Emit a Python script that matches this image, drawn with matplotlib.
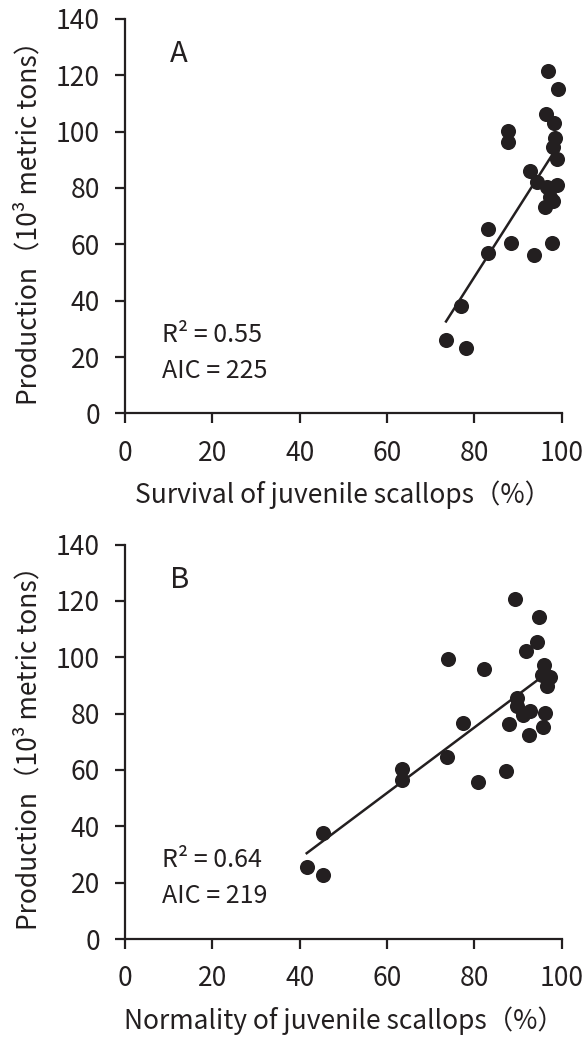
import numpy as np
import matplotlib
matplotlib.use("Agg")
import matplotlib.pyplot as plt

plt.rcParams['font.family'] = ['Noto Sans CJK SC', 'DejaVu Sans']

# Panel A: survival of juvenile scallops (%) vs production (10^3 t)
survival = [96.9, 99.2, 96.3, 98.3, 87.8, 87.8, 98.5, 98.0, 98.8, 92.7,
            94.3, 98.9, 96.6, 97.3, 98.1, 96.2, 83.0, 83.0, 88.4, 93.7,
            97.7, 76.9, 73.5, 78.0]
prod_a = [121.7, 115.2, 106.4, 103.1, 100.3, 96.3, 97.9, 94.5, 90.3, 86.2,
          82.0, 81.0, 80.4, 76.9, 75.5, 73.3, 65.3, 56.8, 60.3, 56.2,
          60.6, 38.1, 26.0, 23.3]

# Panel B: normality of juvenile scallops (%) vs production (10^3 t)
normality = [89.3, 94.9, 94.4, 91.8, 73.9, 82.1, 96.0, 97.3, 95.4, 96.6,
             89.8, 89.8, 91.2, 92.8, 96.2, 95.8, 92.4, 88.0, 77.5, 73.7,
             87.2, 80.8, 63.4, 63.4, 45.3, 41.6, 45.3]
prod_b = [120.8, 114.2, 105.3, 102.3, 99.4, 95.8, 97.4, 92.9, 93.8, 89.7,
          85.5, 82.6, 79.6, 81.1, 80.4, 75.2, 72.5, 76.4, 76.7, 64.6,
          59.8, 55.7, 60.3, 56.5, 37.8, 25.5, 22.7]

panel_letters = ["A", "B"]
stats_text = [["R² = 0.55", "AIC = 225"], ["R² = 0.64", "AIC = 219"]]
xlabels = ["Survival of juvenile scallops（%）", "Normality of juvenile scallops（%）"]
ylabel = "Production（10³ metric tons）"
xticks = [0, 20, 40, 60, 80, 100]
yticks = [0, 20, 40, 60, 80, 100, 120, 140]

INK = "#231f20"
FS = 19

fig = plt.figure(figsize=(5.87, 10.37), dpi=100)
axA = fig.add_axes([0.213, 0.6014, 0.744, 0.3803])
axB = fig.add_axes([0.213, 0.0945, 0.744, 0.3803])

for ax, xs, ys, letter, st, xl in [
        (axA, survival, prod_a, panel_letters[0], stats_text[0], xlabels[0]),
        (axB, normality, prod_b, panel_letters[1], stats_text[1], xlabels[1])]:
    xs = np.asarray(xs)
    ys = np.asarray(ys)
    ax.scatter(xs, ys, s=118, color=INK, zorder=3, linewidths=0, clip_on=False)
    k, b = np.polyfit(xs, ys, 1)
    xx = np.array([xs.min(), xs.max()])
    ax.plot(xx, k * xx + b, color=INK, lw=1.8, zorder=2)

    ax.set_xlim(0, 100)
    ax.set_ylim(0, 140)
    ax.set_xticks(xticks)
    ax.set_yticks(yticks)
    for s in ["top", "right"]:
        ax.spines[s].set_visible(False)
    for s in ["left", "bottom"]:
        ax.spines[s].set_linewidth(1.6)
        ax.spines[s].set_color(INK)
    ax.tick_params(axis='both', direction='out', length=7, width=1.6,
                   color=INK, labelsize=FS, labelcolor=INK)
    ax.tick_params(axis='x', pad=12)
    ax.tick_params(axis='y', pad=11)
    ax.set_xlabel(xl, fontsize=FS, color=INK, labelpad=10)
    ax.set_ylabel(ylabel, fontsize=FS, color=INK, labelpad=10)

    ax.text(10.3, 127.5, letter, fontsize=FS + 2, color=INK, ha='left', va='center')
    ax.text(8.4, 27.9, st[0], fontsize=FS - 1, color=INK, ha='left', va='center')
    ax.text(8.4, 15.2, st[1], fontsize=FS - 1, color=INK, ha='left', va='center')

fig.savefig("out.png", dpi=100)
